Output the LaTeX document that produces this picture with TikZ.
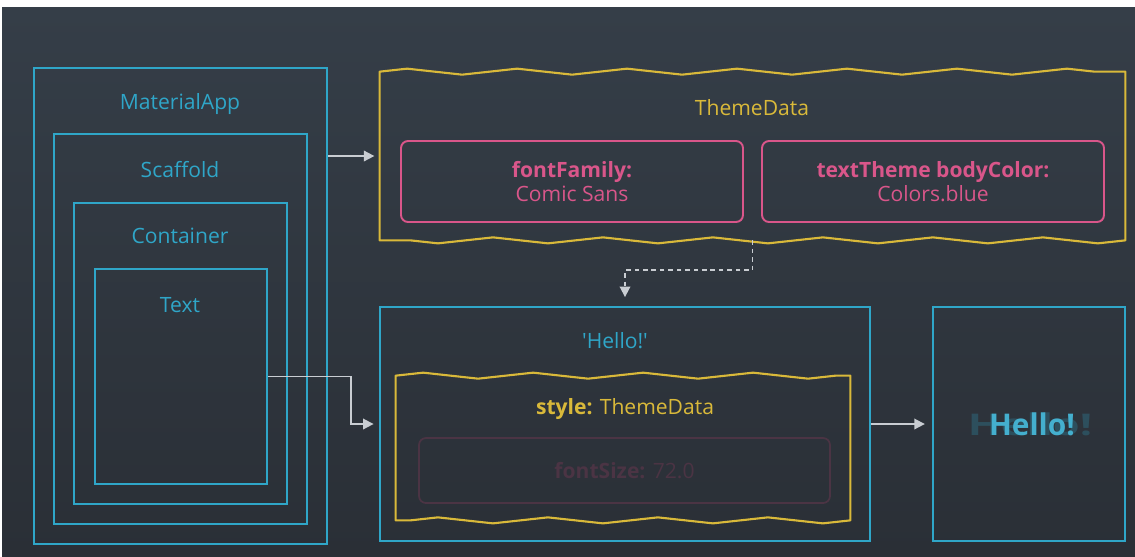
\documentclass[tikz,border=0pt]{standalone}
\usepackage{fontspec}
\setmainfont{Open Sans}
\newfontfamily\plainfont{Open Sans}
\usetikzlibrary{fit,arrows.meta,decorations.pathmorphing}

\definecolor{bgtop}{HTML}{353E48}
\definecolor{bgbot}{HTML}{2A2F36}
\definecolor{flcyan}{HTML}{2FA6C8}
\definecolor{flyellow}{HTML}{D9B93A}
\definecolor{flpink}{HTML}{D9568A}
\definecolor{flgrey}{HTML}{C9CDD2}
\definecolor{flfaded}{HTML}{4B3444}

\tikzset{
	cbox/.style={draw=flcyan,line width=1.3pt,inner sep=0pt},
	pbox/.style={draw=flpink,line width=1.1pt,rounded corners=4pt,inner sep=0pt},
	clabel/.style={text=flcyan,font=\fontsize{12}{14}\selectfont},
	ylabel/.style={text=flyellow,font=\fontsize{12}{14}\selectfont},
	plabel/.style={text=flpink,font=\fontsize{12}{14}\selectfont,align=center},
	zz/.style={decoration={zigzag,segment length=2.2cm,amplitude=0.06cm}},
	ybox/.style={draw=flyellow,line width=1.2pt,line join=round},
	arr/.style={-{Triangle[length=6pt,width=6pt]},flgrey,line width=1pt},
	dasharr/.style={arr,dash pattern=on 2.6pt off 2.2pt}
}

\begin{document}
\begin{tikzpicture}[x=0.02cm,y=-0.02cm]

	\useasboundingbox (0,0) rectangle (1135,556);
	\fill[white] (0,0) rectangle (1135,556);
	\shade[top color=bgtop,bottom color=bgbot] (2,7) rectangle (1135,556);

	% widget tree
	\node[cbox,fit={(34,68) (327,544)}] (app) {};
	\node[cbox,fit={(54,134) (307,524)}] (scaf) {};
	\node[cbox,fit={(74,203) (287,504)}] (cont) {};
	\node[cbox,fit={(95,269) (267,484)}] (txt) {};

	\node[clabel] (lapp) at (180,104) {MaterialApp};
	\node[clabel] (lscaf) at (180,170) {Scaffold};
	\node[clabel] (lcont) at (180,236) {Container};
	\node[clabel] (ltxt) at (180,305) {Text};

	% theme data
	\node[fit={(380,72) (1125,240)},inner sep=0pt] (tdata) {};
	\draw[ybox] (tdata.north west) decorate[zz]{-- (tdata.north east)} -- (tdata.south east)
		decorate[zz]{-- (tdata.south west)} -- cycle;
	\node[ylabel] (ltdata) at (752,108) {ThemeData};

	\node[pbox,fit={(401,141) (743,222)}] (ffam) {};
	\node[plabel] at (ffam.center) {\textbf{fontFamily:}\\Comic Sans};
	\node[pbox,fit={(762,141) (1104,222)}] (tcol) {};
	\node[plabel] at (tcol.center) {\textbf{textTheme bodyColor:}\\Colors.blue};

	% text widget
	\node[cbox,fit={(380,307) (870,541)}] (hello) {};
	\node[clabel] (lhello) at (615,341) {\plainfont 'Hello!'};

	\node[fit={(396,376) (850,520)},inner sep=0pt] (sty) {};
	\draw[ybox] (sty.north west) decorate[zz]{-- (sty.north east)} -- (sty.south east)
		decorate[zz]{-- (sty.south west)} -- cycle;
	\node[ylabel] (lsty) at (625,409) {\textbf{style:} ThemeData};

	\node[draw=flfaded,line width=1pt,rounded corners=4pt,inner sep=0pt,fit={(419,438) (830,503)}] (fsize) {};
	\node[text=flfaded,font=\fontsize{12}{14}\selectfont] at (fsize.center) {\textbf{fontSize:} 72.0};

	% rendered result
	\node[cbox,fit={(933,307) (1125,541)}] (res) {};
	\node[text=flcyan,opacity=0.25,xscale=1.45,font=\fontsize{17}{20}\selectfont\bfseries] at (1030,424) {Hello!};
	\node[text=flcyan!90!white,font=\fontsize{17}{20}\selectfont\bfseries] (lres) at (1032,424) {Hello!};

	% connectors
	\draw[arr,shorten >=3pt] (app.east |- tdata.west) -- (tdata.west);
	\draw[dasharr,shorten >=5pt] (tdata.south) -- ++(0,30) -| (hello.north);
	\draw[arr,shorten >=3pt] (txt.east) -- ++(83,0) |- (hello.west);
	\draw[arr,shorten >=4pt] (hello.east) -- (res.west);

\end{tikzpicture}
\end{document}
